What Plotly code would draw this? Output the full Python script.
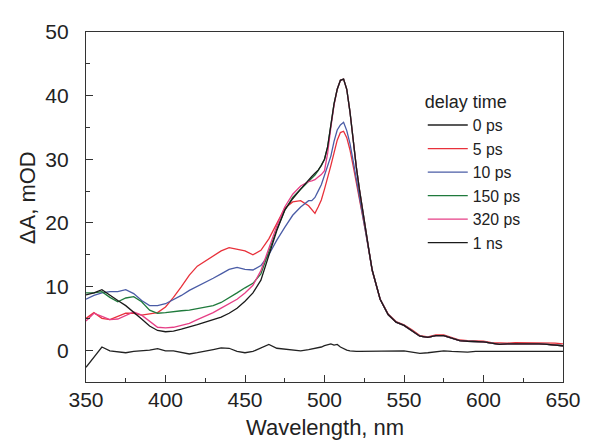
import plotly.graph_objects as go

wavelength = [350, 355, 360, 365, 370, 375, 380, 385, 390, 395, 400, 405, 410, 415, 420,
              425, 430, 435, 440, 445, 450, 455, 460, 465, 470, 475, 480, 485, 490,
              492, 494, 496, 498, 500, 502, 504, 506, 508, 510, 512, 514, 516, 518, 520,
              522, 524, 526, 528, 530,
              535, 540, 545, 550, 555, 560, 565, 570, 575, 580, 585, 590, 595, 600,
              605, 610, 615, 620, 625, 630, 635, 640, 645, 650]

da_0ps = [-2.7, -1.1, 0.5, -0.1, -0.3, -0.4, -0.2, -0.1, 0.0, 0.25, -0.1, -0.1, -0.3, -0.6, -0.4,
          -0.1, 0.1, 0.35, 0.3, -0.2, -0.4, -0.2, 0.4, 0.9, 0.3, 0.2, 0.0, -0.1, 0.1,
          0.2, 0.2, 0.3, 0.5, 0.7, 0.9, 1.0, 0.8, 0.9, 0.5, 0.2, 0.0, -0.1, -0.2, -0.2,
          -0.2, -0.2, -0.1, -0.2, -0.2,
          -0.1, -0.2, -0.2, -0.1, -0.3, -0.5, -0.4, -0.2, -0.1, -0.2, -0.3, -0.3, -0.2, -0.2,
          -0.2, -0.2, -0.2, -0.2, -0.2, -0.2, -0.2, -0.2, -0.2, -0.2]

da_5ps = [5.0, 5.9, 5.0, 4.8, 5.3, 5.8, 5.8, 5.5, 5.7, 5.9, 6.8, 8.3, 10.0, 11.8, 13.2,
          14.0, 14.8, 15.6, 16.1, 15.8, 15.6, 15.0, 15.7, 17.5, 20.0, 22.3, 23.3, 23.5, 22.7,
          22.0, 21.5, 22.5, 23.6, 25.3, 27.0, 29.0, 31.0, 33.0, 34.2, 34.4, 33.4, 31.5, 29.0, 26.5,
          24.0, 21.4, 18.4, 15.5, 12.5,
          8.0, 5.7, 4.5, 4.0, 3.2, 2.3, 2.1, 2.4, 2.4, 2.0, 1.6, 1.5, 1.5, 1.4,
          1.2, 1.1, 1.1, 1.2, 1.2, 1.2, 1.2, 1.1, 1.1, 1.0]

da_10ps = [8.0, 8.6, 9.0, 9.2, 9.2, 9.5, 8.9, 7.8, 7.0, 7.0, 7.3, 7.9, 8.6, 9.4, 10.0,
           10.6, 11.3, 12.0, 12.7, 13.0, 12.7, 12.6, 13.3, 15.0, 17.3, 19.3, 21.2, 22.5, 23.5,
           23.5, 24.0, 25.0, 26.0, 27.5, 29.0, 30.5, 32.8, 34.6, 35.4, 35.8, 34.5, 32.5, 29.8, 27.0,
           24.5, 21.6, 18.5, 15.5, 12.5,
           8.0, 5.6, 4.4, 3.9, 3.1, 2.2, 2.0, 2.3, 2.3, 1.9, 1.5, 1.4, 1.4, 1.3,
           1.1, 0.9, 1.0, 1.0, 1.1, 1.0, 1.0, 0.9, 0.8, 0.7]

da_150ps = [9.0, 9.0, 9.2, 8.3, 7.6, 8.2, 8.4, 7.6, 6.3, 5.8, 5.9, 6.1, 6.2, 6.3, 6.5,
            6.7, 7.0, 7.5, 8.2, 9.0, 9.8, 10.5, 12.0, 15.5, 19.0, 22.0, 24.0, 25.3, 26.5,
            27.0, 27.5, 28.2, 29.0, 30.0, 32.0, 35.5, 38.7, 41.0, 42.4, 42.6, 41.0, 37.5, 33.0, 28.8,
            25.2, 21.8, 18.6, 15.6, 12.6,
            8.0, 5.6, 4.4, 3.9, 3.1, 2.2, 2.0, 2.3, 2.3, 1.9, 1.5, 1.4, 1.4, 1.3,
            1.1, 0.9, 1.0, 1.0, 1.1, 1.0, 1.0, 0.9, 0.8, 0.7]

da_320ps = [4.6, 5.8, 5.3, 4.8, 4.9, 5.4, 6.0, 5.5, 4.5, 3.6, 3.5, 3.6, 3.9, 4.2, 4.8,
            5.3, 5.9, 6.6, 7.3, 8.0, 9.0, 10.2, 12.5, 16.0, 19.5, 22.5, 24.5, 25.8, 26.5,
            26.6, 26.8, 27.2, 27.6, 28.2, 31.0, 35.0, 38.5, 41.0, 42.4, 42.6, 41.0, 37.5, 33.0, 28.8,
            25.2, 21.8, 18.6, 15.6, 12.6,
            8.0, 5.6, 4.4, 3.9, 3.1, 2.2, 2.0, 2.3, 2.3, 1.9, 1.5, 1.4, 1.4, 1.3,
            1.1, 0.9, 1.0, 1.0, 1.1, 1.0, 1.0, 0.9, 0.8, 0.7]

da_1ns = [8.7, 9.0, 9.5, 8.6, 7.8, 7.0, 6.0, 4.9, 3.8, 3.1, 2.9, 3.0, 3.3, 3.6, 4.0,
          4.4, 4.8, 5.2, 5.8, 6.6, 7.7, 9.0, 11.0, 15.0, 18.8, 22.0, 23.8, 25.3, 26.8,
          27.3, 27.8, 28.3, 29.0, 30.0, 32.0, 35.5, 38.7, 41.0, 42.4, 42.6, 41.0, 37.5, 33.0, 28.8,
          25.2, 21.8, 18.6, 15.6, 12.6,
          8.0, 5.6, 4.4, 3.9, 3.1, 2.2, 2.0, 2.3, 2.3, 1.9, 1.5, 1.4, 1.4, 1.3,
          1.1, 0.9, 1.0, 1.0, 1.1, 1.0, 1.0, 0.9, 0.8, 0.7]

series_names = ["0 ps", "5 ps", "10 ps", "150 ps", "320 ps", "1 ns"]
series_values = [da_0ps, da_5ps, da_10ps, da_150ps, da_320ps, da_1ns]
series_colors = ["#222222", "#e8313b", "#4a5ca6", "#1f7a3c", "#e63f86", "#1a1a1a"]

x_ticks = [350, 400, 450, 500, 550, 600, 650]
y_ticks = [0, 10, 20, 30, 40, 50]

fig = go.Figure()
for name, vals, col in zip(series_names, series_values, series_colors):
    fig.add_trace(go.Scatter(x=wavelength, y=vals, mode="lines", name=name,
                             line=dict(color=col, width=1.3)))

font_family = "Liberation Sans, Arial, sans-serif"
axis_common = dict(showline=True, linecolor="#333333", linewidth=1.3, mirror=True,
                   ticks="inside", ticklen=7, tickwidth=1.2, tickcolor="#333333",
                   showgrid=False, zeroline=False,
                   tickfont=dict(family=font_family, size=21, color="#222222"))

fig.update_xaxes(range=[350, 650], tickvals=x_ticks, ticklabelstandoff=-1,
                 minor=dict(ticks="inside", ticklen=4, dtick=25, tick0=350,
                            tickcolor="#333333", tickwidth=1.2),
                 **axis_common)
fig.update_yaxes(range=[-5, 50], tickvals=y_ticks, ticklabelstandoff=12,
                 minor=dict(ticks="inside", ticklen=4, dtick=5, tick0=0,
                            tickcolor="#333333", tickwidth=1.2),
                 **axis_common)

# page body has an 8px default margin, so the figure is sized to fit the window
fig.update_layout(
    width=585, height=432,
    margin=dict(l=78, r=21, t=14, b=58),
    paper_bgcolor="white", plot_bgcolor="white",
    font=dict(family=font_family, color="#222222"),
    legend=dict(x=0.706, y=0.849, xanchor="left", yanchor="top",
                bgcolor="rgba(0,0,0,0)", borderwidth=0,
                font=dict(family=font_family, size=15.8, color="#222222"),
                title=dict(text="delay time", font=dict(family=font_family, size=18)),
                itemwidth=40, tracegroupgap=0),
    annotations=[
        dict(text="Wavelength, nm", xref="paper", yref="paper", x=0.502, y=-0.131,
             xanchor="center", yanchor="middle", showarrow=False,
             font=dict(family=font_family, size=22, color="#222222")),
        dict(text="ΔA, mOD", xref="paper", yref="paper", x=-0.121, y=0.526,
             xanchor="center", yanchor="middle", showarrow=False, textangle=-90,
             font=dict(family=font_family, size=22, color="#222222")),
    ],
)

fig.write_html("out.html")
